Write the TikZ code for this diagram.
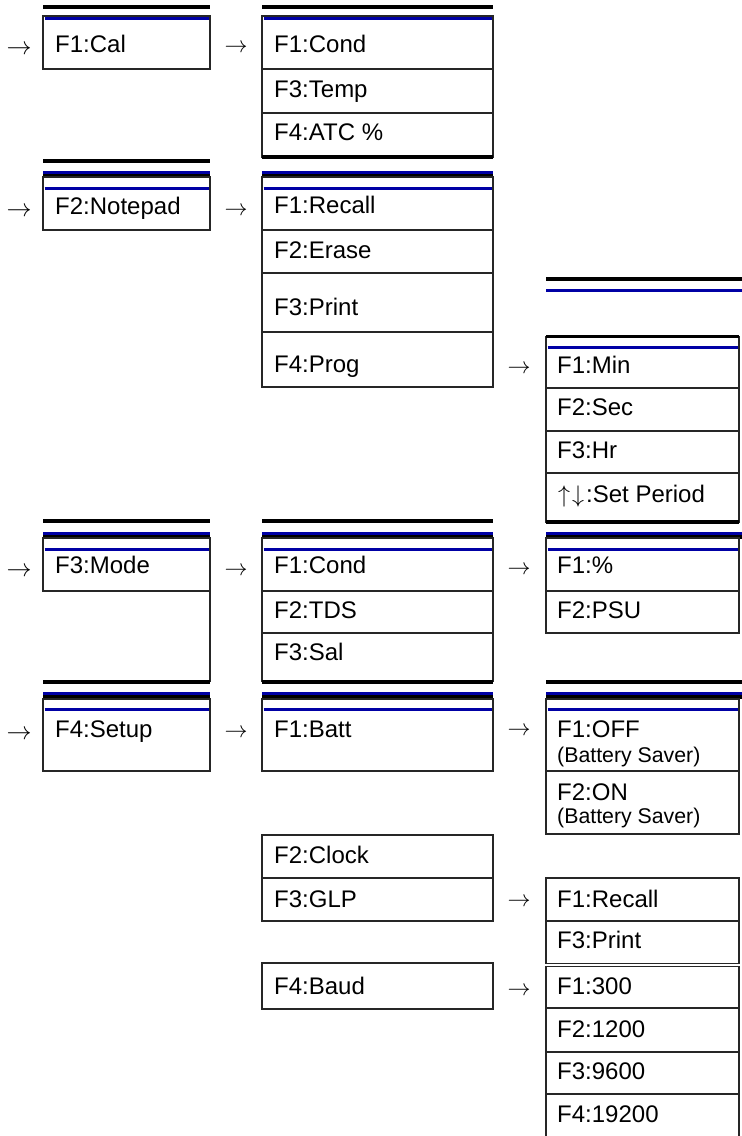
\documentclass[tikz,border=0pt]{standalone}
\usepackage{fix-cm}
\usepackage{fontspec}
\setmainfont{Liberation Sans}
\definecolor{navy}{RGB}{0,0,165}
\begin{document}
\begin{tikzpicture}[x=1pt,y=-1pt,
  bx/.style={draw=black!85,line width=1.3pt},
  lbl/.style={anchor=base west,inner sep=0pt,font=\fontsize{24}{26}\selectfont},
  sml/.style={anchor=base west,inner sep=0pt,font=\fontsize{21.3}{24}\selectfont},
  arrL/.style={inner sep=0pt,anchor=center,font=\fontsize{25}{25}\selectfont},
  arrM/.style={inner sep=0pt,anchor=center,font=\fontsize{23}{23}\selectfont},
  kbar/.style={line width=4pt,black},
  kbarb/.style={line width=3.2pt,black},
  bbar/.style={line width=3.5pt,navy},
  tbl/.style={line width=3pt,navy}]
\fill[white] (0,0) rectangle (742,1136);
\clip (0,0) rectangle (742,1136);

% ---------------- Column 1 ----------------
\draw[kbar] (43,7) -- (210,7);
\draw[bx] (43,16) rectangle (210,69);
\draw[tbl] (44.5,18.5) -- (208.5,18.5);
\node[lbl] (c1cal) at (55,52) {F1:Cal};

\draw[kbar] (43,160.5) -- (210,160.5);
\draw[bbar] (43,172.5) -- (210,172.5);
\draw[kbarb] (43,175.5) -- (210,175.5);
\draw[bx] (43,177) rectangle (210,230);
\draw[tbl] (44.5,188.5) -- (208.5,188.5);
\node[lbl] (c1note) at (55,214) {F2:Notepad};

\draw[kbar] (43,521) -- (210,521);
\draw[bbar] (43,533.75) -- (210,533.75);
\draw[kbarb] (43,537) -- (210,537);
\draw[bx] (43,538) rectangle (210,591);
\draw[bx] (210,591) -- (210,681.5);
\draw[tbl] (44.5,549.5) -- (208.5,549.5);
\node[lbl] (c1mode) at (55,573) {F3:Mode};

\draw[kbar] (43,681.5) -- (210,681.5);
\draw[bbar] (43,693.75) -- (210,693.75);
\draw[kbarb] (43,697) -- (210,697);
\draw[bx] (43,699) rectangle (210,771);
\draw[tbl] (44.5,709.5) -- (208.5,709.5);
\node[lbl] (c1setup) at (55,737) {F4:Setup};

% ---------------- Column 2 ----------------
\draw[kbar] (262,7) -- (493,7);
\draw[bx] (262,16) rectangle (493,157);
\draw[bx] (262,69) -- (493,69);
\draw[bx] (262,113) -- (493,113);
\draw[tbl] (263.5,18.5) -- (491.5,18.5);
\draw[kbar] (262,157) -- (493,157);
\node[lbl] (c2cond) at (274,52) {F1:Cond};
\node[lbl] (c2temp) at (274,97) {F3:Temp};
\node[lbl] (c2atc) at (274,140) {F4:ATC \%};

\draw[bbar] (262,172.5) -- (493,172.5);
\draw[kbarb] (262,175.5) -- (493,175.5);
\draw[bx] (262,177) rectangle (493,387);
\draw[bx] (262,230) -- (493,230);
\draw[bx] (262,273) -- (493,273);
\draw[bx] (262,332) -- (493,332);
\draw[tbl] (263.5,188.5) -- (491.5,188.5);
\node[lbl] (c2recall) at (274,213) {F1:Recall};
\node[lbl] (c2erase) at (274,258) {F2:Erase};
\node[lbl] (c2print) at (274,315) {F3:Print};
\node[lbl] (c2prog) at (274,372) {F4:Prog};

\draw[kbar] (262,521) -- (493,521);
\draw[bbar] (262,533.75) -- (493,533.75);
\draw[kbarb] (262,537) -- (493,537);
\draw[bx] (262,538) rectangle (493,681.5);
\draw[bx] (262,591) -- (493,591);
\draw[bx] (262,633) -- (493,633);
\draw[tbl] (263.5,549.5) -- (491.5,549.5);
\draw[kbar] (262,681.5) -- (493,681.5);
\node[lbl] (c2mcond) at (274,573) {F1:Cond};
\node[lbl] (c2tds) at (274,618) {F2:TDS};
\node[lbl] (c2sal) at (274,660) {F3:Sal};

\draw[bbar] (262,693.75) -- (493,693.75);
\draw[kbarb] (262,697) -- (493,697);
\draw[bx] (262,699) rectangle (493,771);
\draw[tbl] (263.5,709.5) -- (491.5,709.5);
\node[lbl] (c2batt) at (274,737) {F1:Batt};

\draw[bx] (262,835) rectangle (493,921);
\draw[bx] (262,878) -- (493,878);
\node[lbl] (c2clock) at (274,863) {F2:Clock};
\node[lbl] (c2glp) at (274,907) {F3:GLP};

\draw[bx] (262,963) rectangle (493,1009);
\node[lbl] (c2baud) at (274,994) {F4:Baud};

% ---------------- Column 3 ----------------
\draw[kbar] (546,278.5) -- (742,278.5);
\draw[bbar] (546,290.5) -- (742,290.5);
\draw[bx] (546,336.5) rectangle (739,522);
\draw[line width=3pt,black] (546,336.5) -- (739,336.5);
\draw[bx] (546,388) -- (739,388);
\draw[bx] (546,431) -- (739,431);
\draw[bx] (546,473) -- (739,473);
\draw[tbl] (547.5,347.5) -- (737.5,347.5);
\draw[kbar] (546,522) -- (739,522);
\node[lbl] (c3min) at (557,373) {F1:Min};
\node[lbl] (c3sec) at (557,415) {F2:Sec};
\node[lbl] (c3hr) at (557,458) {F3:Hr};
\node[lbl] (c3set) at (557,502) {\hspace{1pt}$\uparrow$\hspace{2pt}$\downarrow$\hspace{2pt}:Set Period};

\draw[bbar] (546,533.75) -- (742,533.75);
\draw[kbarb] (546,537) -- (742,537);
\draw[bx] (546,538) rectangle (739,633);
\draw[bx] (546,591) -- (739,591);
\draw[tbl] (547.5,549.5) -- (737.5,549.5);
\node[lbl] (c3pct) at (557,573) {F1:\%};
\node[lbl] (c3psu) at (557,618) {F2:PSU};

\draw[kbar] (546,681.5) -- (742,681.5);
\draw[bbar] (546,693.75) -- (742,693.75);
\draw[kbarb] (546,697) -- (742,697);
\draw[bx] (546,699) rectangle (739,834);
\draw[bx] (546,771) -- (739,771);
\draw[tbl] (547.5,709.5) -- (737.5,709.5);
\node[lbl] (c3off) at (557,737) {F1:OFF};
\node[sml] (c3offs) at (557,762) {(Battery Saver)};
\node[lbl] (c3on) at (557,800) {F2:ON};
\node[sml] (c3ons) at (557,823) {(Battery Saver)};

\draw[bx] (546,878) rectangle (739,963.3);
\draw[bx] (546,921) -- (739,921);
\draw[bx] (546,966.7) rectangle (739,1150);
\draw[bx] (546,1008) -- (739,1008);
\draw[bx] (546,1052) -- (739,1052);
\draw[bx] (546,1094) -- (739,1094);
\node[lbl] (c3recall) at (557,907) {F1:Recall};
\node[lbl] (c3print) at (557,948) {F3:Print};
\node[lbl] (c3b300) at (557,994) {F1:300};
\node[lbl] (c3b1200) at (557,1037) {F2:1200};
\node[lbl] (c3b9600) at (557,1079) {F3:9600};
\node[lbl] (c3b19200) at (557,1122) {F4:19200};

% ---------------- Arrows ----------------
\node[arrL] (aL1) at (19,50) {$\rightarrow$};
\node[arrL] (aL2) at (19,212) {$\rightarrow$};
\node[arrL] (aL3) at (19,572) {$\rightarrow$};
\node[arrL] (aL4) at (19,735) {$\rightarrow$};
\node[arrM] (aM1) at (236,48.5) {$\rightarrow$};
\node[arrM] (aM2) at (236,211) {$\rightarrow$};
\node[arrM] (aM3) at (236,571.5) {$\rightarrow$};
\node[arrM] (aM4) at (236,733) {$\rightarrow$};
\node[arrM] (aR1) at (519,369) {$\rightarrow$};
\node[arrM] (aR2) at (519,570.5) {$\rightarrow$};
\node[arrM] (aR3) at (519,731.5) {$\rightarrow$};
\node[arrM] (aR4) at (519,902.5) {$\rightarrow$};
\node[arrM] (aR5) at (519,991) {$\rightarrow$};
\end{tikzpicture}
\end{document}
